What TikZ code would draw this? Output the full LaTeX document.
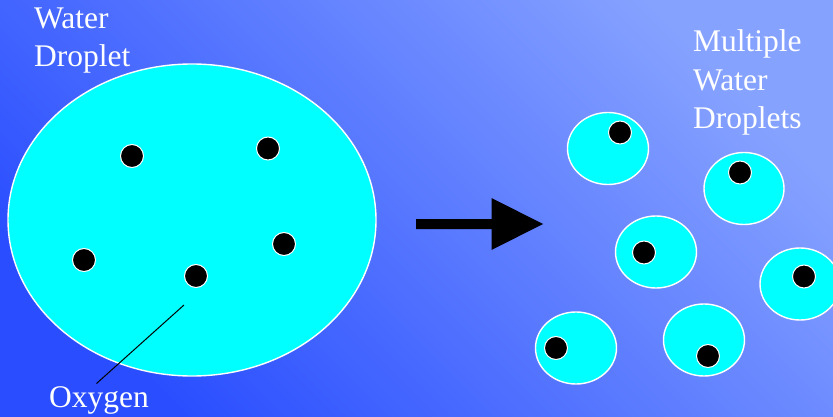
\documentclass[tikz,border=0pt]{standalone}
\usepackage{fontspec}
\setmainfont{Liberation Serif}
\definecolor{bgdark}{RGB}{42,78,255}
\definecolor{bglight}{RGB}{134,162,255}
\definecolor{drop}{RGB}{0,255,255}
\tikzset{
  droplet/.style={draw=white, line width=1.4pt, fill=drop},
  oxy/.style={circle, draw=white, line width=1pt, fill=black, minimum size=23pt, inner sep=0pt},
  label/.style={text=white, font=\fontsize{31.5}{38.3}\selectfont, inner sep=0pt, anchor=base west, align=left},
}
\begin{document}
\begin{tikzpicture}[x=1pt, y=-1pt]
\useasboundingbox (0,0) rectangle (833,417);
\shade[top color=bglight, bottom color=bgdark, shading angle=-45] (0,0) rectangle (833,417);
% big droplet
\fill[droplet] (192,220) ellipse [x radius=184, y radius=156];
\node[oxy] (o1) at (132,156) {};
\node[oxy] (o2) at (268,148.5) {};
\node[oxy] (o3) at (84,260) {};
\node[oxy] (o4) at (196,276) {};
\node[oxy] (o5) at (284,244) {};
\coordinate (lt) at (184,305);
\coordinate (lb) at (96.5,383.5);
\draw[black, line width=1pt] (lt) -- (lb);
% labels
\node[label] (wd) at (34,66.8) {Water\\Droplet};
\node[label] (ox) at (49,407) {Oxygen};
\node[label] (mwd) at (693,128.5) {Multiple\\Water\\Droplets};
% arrow
\fill[black] (416,219) -- (491.5,219) -- (491.5,198) -- (543,224) -- (491.5,250) -- (491.5,229) -- (416,229) -- cycle;
% small droplets
\fill[droplet] (608,148.5) ellipse [x radius=40.5, y radius=36];
\node[oxy] (s1) at (620,132.5) {};
\fill[droplet] (744,188.5) ellipse [x radius=40, y radius=36];
\node[oxy] (s2) at (740,172.5) {};
\fill[droplet] (656,252) ellipse [x radius=40.5, y radius=36];
\node[oxy] (s3) at (644,252.5) {};
\fill[droplet] (800,284) ellipse [x radius=40, y radius=36];
\node[oxy] (s4) at (804,276.5) {};
\fill[droplet] (576,348) ellipse [x radius=40.5, y radius=36];
\node[oxy] (s5) at (556,348) {};
\fill[droplet] (704,340) ellipse [x radius=40.5, y radius=36];
\node[oxy] (s6) at (708,356) {};
\end{tikzpicture}
\end{document}
